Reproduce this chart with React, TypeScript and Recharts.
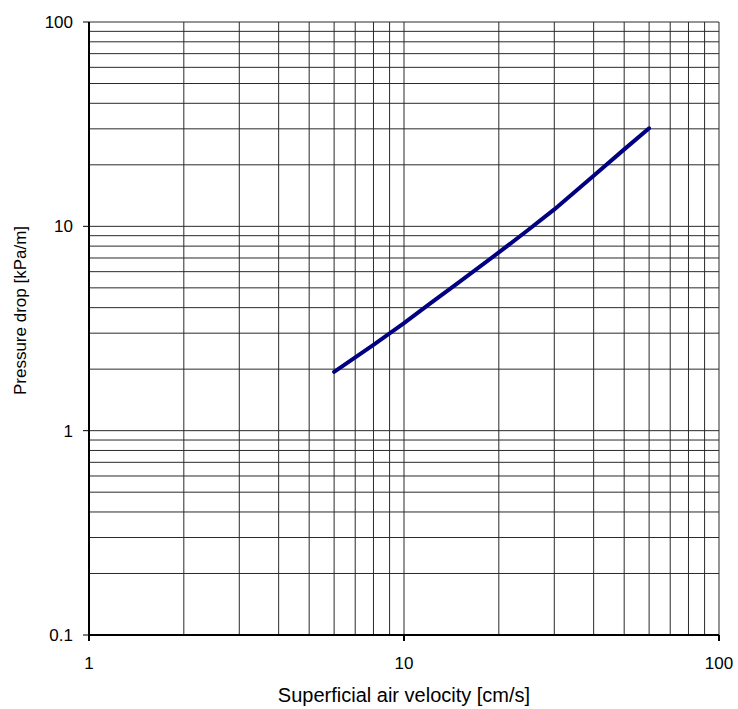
import React, { FC } from 'react'
import { LineChart, Line, XAxis, YAxis, ReferenceLine } from 'recharts'

// superficial air velocity [cm/s]
const velocities = [6, 8, 10, 12, 15, 20, 25, 30, 40, 50, 60]
// pressure drop [kPa/m]
const pressureDrops = [1.94, 2.63, 3.36, 4.15, 5.35, 7.45, 9.7, 12.1, 17.7, 23.8, 30.2]

const xTicks = [1, 10, 100]
const yTicks = [0.1, 1, 10, 100]
const xGrid = [2, 3, 4, 5, 6, 7, 8, 9, 10, 20, 30, 40, 50, 60, 70, 80, 90, 100]
const yGrid = [0.2, 0.3, 0.4, 0.5, 0.6, 0.7, 0.8, 0.9, 1, 2, 3, 4, 5, 6, 7, 8, 9, 10, 20, 30, 40, 50, 60, 70, 80, 90, 100]

type Point = {
  velocity: number,
  drop: number
}

const family = 'Liberation Sans, Arial, sans-serif'
const tickFont = { fontFamily: family, fontSize: 17, fill: '#000' }

const App: FC = () => {
  const data: Point[] = []
  velocities.forEach((v, i) => {
    data.push({ velocity: v, drop: pressureDrops[i] })
  })

  // pinned to the page corner so the body margin doesn't push out scrollbars
  return (
    <div style={{ position: 'absolute', left: 0, top: 0, width: 738, height: 709, overflow: 'hidden' }}>
      <LineChart
        width={738}
        height={709}
        data={data}
        margin={{ top: 22, right: 19, left: 0, bottom: 0 }}
      >
        {xGrid.map(v => (
          <ReferenceLine key={'x' + v} x={v} stroke="#2a2a2a" strokeWidth={1} />
        ))}
        {yGrid.map(v => (
          <ReferenceLine key={'y' + v} y={v} stroke="#2a2a2a" strokeWidth={1} />
        ))}
        <XAxis
          dataKey="velocity"
          type="number"
          scale="log"
          domain={[1, 100]}
          ticks={xTicks}
          allowDataOverflow
          height={74}
          axisLine={{ stroke: '#000', strokeWidth: 2 }}
          tickLine={{ stroke: '#000', strokeWidth: 2 }}
          tickSize={6}
          tickMargin={16}
          tick={tickFont}
          label={{
            value: 'Superficial air velocity [cm/s]',
            position: 'insideBottom',
            offset: 7,
            fontFamily: family,
            fontSize: 20,
            fill: '#000'
          }}
        />
        <YAxis
          type="number"
          scale="log"
          domain={[0.1, 100]}
          ticks={yTicks}
          allowDataOverflow
          width={89}
          axisLine={{ stroke: '#000', strokeWidth: 2 }}
          tickLine={{ stroke: '#000', strokeWidth: 1 }}
          tickSize={6}
          tickMargin={10}
          tick={tickFont}
          tickFormatter={(v: number) => String(v)}
          label={{
            value: 'Pressure drop [kPa/m]',
            angle: -90,
            position: 'insideLeft',
            offset: 20,
            dy: -18,
            fontFamily: family,
            fontSize: 17,
            fill: '#000',
            style: { textAnchor: 'middle' }
          }}
        />
        <Line
          type="linear"
          dataKey="drop"
          stroke="#000080"
          strokeWidth={4}
          strokeLinecap="round"
          dot={false}
          isAnimationActive={false}
        />
      </LineChart>
    </div>
  )
}

export default App
